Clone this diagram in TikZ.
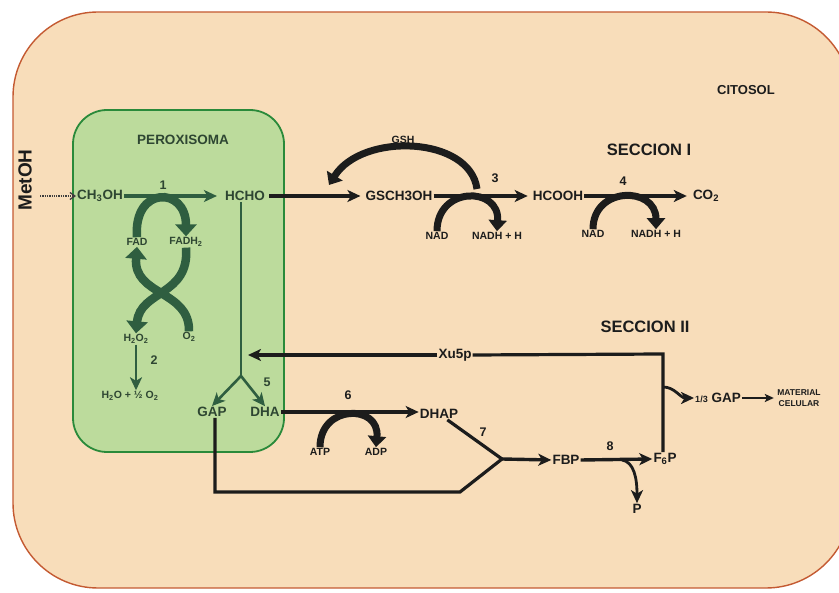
\documentclass[tikz,border=0pt]{standalone}
\usepackage{fontspec}
\setmainfont{Liberation Sans}
\usetikzlibrary{arrows.meta}

\definecolor{cytofill}{HTML}{F8DDBA}
\definecolor{cytoedge}{HTML}{C45A32}
\definecolor{perofill}{HTML}{BCDB9C}
\definecolor{peroedge}{HTML}{2A8A3A}
\definecolor{perotext}{HTML}{2E4632}
\definecolor{cyclegreen}{HTML}{2F5E40}
\definecolor{ink}{HTML}{1C1C1C}

\tikzset{
  sp/.style={font=\fontsize{13.5}{13.5}\selectfont\bfseries, text=ink, inner sep=1pt},
  spin/.style={sp, text=perotext},
  cof/.style={font=\fontsize{10.5}{10.5}\selectfont\bfseries, text=ink, inner sep=1pt},
  cofin/.style={cof, text=perotext},
  num/.style={font=\fontsize{12.5}{12.5}\selectfont\bfseries, text=ink, inner sep=0pt},
  numin/.style={num, text=perotext},
  sectitle/.style={font=\fontsize{16.5}{16.5}\selectfont\bfseries, text=ink},
  rxn/.style={line width=3.4pt, draw=ink, -{Stealth[length=13pt,width=12pt,inset=3.5pt]}},
  rxnin/.style={rxn, draw=cyclegreen},
  band/.style={line width=7pt, draw=ink, -{Triangle[length=11pt,width=18pt]}},
  bandin/.style={line width=8.5pt, draw=cyclegreen, -{Triangle[length=12pt,width=21pt]}},
  link/.style={line width=3.2pt, draw=ink},
}

\begin{document}
\begin{tikzpicture}[x=1pt,y=-1pt]
\useasboundingbox (0,0) rectangle (839,593);
\fill[white] (0,0) rectangle (839,593);

% cytosol and peroxisome compartments
\draw[cytoedge, fill=cytofill, line width=1.4pt, rounded corners=85pt] (13,12) rectangle (851,588);
\draw[peroedge, fill=perofill, line width=1.8pt, rounded corners=34pt] (73,110) rectangle (284,452);

% compartment and section titles
\node[font=\fontsize{19}{19}\selectfont\bfseries, text=ink, rotate=90] (metoh) at (25,180) {MetOH};
\node[font=\fontsize{13.5}{13.5}\selectfont\bfseries, text=perotext] (perox) at (183,140) {PEROXISOMA};
\node[font=\fontsize{13}{13}\selectfont\bfseries, text=ink] (citosol) at (746,90) {CITOSOL};
\node[sectitle] (sec1) at (649,150) {SECCION I};
\node[sectitle] (sec2) at (645,327) {SECCION II};

% metabolites
\node[spin] (ch3oh) at (100,196) {CH\textsubscript{3}OH};
\node[spin] (hcho) at (245,196) {HCHO};
\node[sp] (gsch) at (399,196) {GSCH3OH};
\node[sp] (hcooh) at (558,196) {HCOOH};
\node[sp] (co2) at (706,196) {CO\textsubscript{2}};
\node[spin] (gap) at (212,412) {GAP};
\node[spin] (dha) at (265,412) {DHA};
\node[sp] (dhap) at (439,414) {DHAP};
\node[sp] (fbp) at (566,460) {FBP};
\node[sp] (f6p) at (665,459) {F\textsubscript{6}P};
\node[sp] (xu5p) at (455,355) {Xu5p};
\node[sp] (gapout) at (718,398) {{\fontsize{9}{9}\selectfont 1/3} GAP};
\node[font=\fontsize{8.5}{10.5}\selectfont\bfseries, text=ink, align=center] (matcel) at (799,398) {MATERIAL\\CELULAR};
\node[sp] (pout) at (637,509) {P};

% cofactors
\node[cofin] (fad) at (137,242) {FAD};
\node[cofin] (fadh) at (186,242) {FADH\textsubscript{2}};
\node[cofin] (h2o2) at (136,339) {H\textsubscript{2}O\textsubscript{2}};
\node[cofin] (o2) at (189,337) {O\textsubscript{2}};
\node[cofin] (h2o) at (130,396) {H\textsubscript{2}O + ½ O\textsubscript{2}};
\node[cof] (nad3) at (437,236) {NAD};
\node[cof] (nadh3) at (497,236) {NADH + H};
\node[cof] (nad4) at (593,234) {NAD};
\node[cof] (nadh4) at (656,234) {NADH + H};
\node[cof] (atp) at (320,452) {ATP};
\node[cof] (adp) at (376,452) {ADP};

% enzyme step numbers
\node[numin] (n1) at (163,185) {1};
\node[numin] (n2) at (154,360) {2};
\node[num] (n3) at (495,178) {3};
\node[num] (n4) at (623,181) {4};
\node[numin] (n5) at (267,382) {5};
\node[num] (n6) at (348,395) {6};
\node[num] (n7) at (483,432) {7};
\node[num] (n8) at (610,446) {8};

% branch points
\coordinate (metin) at (40,196);
\coordinate (split) at (241,376);
\coordinate (xutip) at (248,355);
\coordinate (corner) at (663,354);
\coordinate (branch) at (663,387);
\coordinate (j7) at (502,459);
\coordinate (gb1) at (215,492);
\coordinate (gb2) at (460,492);
\coordinate (pbr) at (622,460);
\coordinate (gshstart) at (477,189);
\coordinate (gshend) at (329,185);

% methanol uptake
\draw[densely dotted, line width=1.3pt, draw=ink!85, -{Straight Barb[length=5pt,width=7pt]}] (metin) -- (ch3oh.west);

% peroxisomal reactions
\draw[rxnin] (ch3oh.east) -- ([xshift=-7pt]hcho.west);
\draw[bandin] (fad.north) .. controls (133,186) and (186,186) .. (fadh.north);
\draw[bandin] (fadh.south) .. controls (190,296) and (140,290) .. (h2o2.north);
\draw[bandin] (o2.north) .. controls (190,290) and (133,296) .. (fad.south);
\draw[rxnin, line width=2.6pt] (h2o2.south) -- (h2o2.south |- h2o.north);
\draw[line width=2pt, draw=cyclegreen] (split |- hcho.south) -- (split);
\draw[rxnin, line width=2.6pt] (split) -- (gap.north);
\draw[rxnin, line width=2.6pt] (split) -- (dha.north);

% section I: oxidation to CO2
\draw[rxn] ([xshift=3pt]hcho.east) -- ([xshift=-4pt]gsch.west);
\draw[rxn] (gsch.east) -- ([xshift=-4pt]hcooh.west);
\draw[rxn] (hcooh.east) -- ([xshift=-5pt]co2.west);
\draw[band] (gshstart) .. controls (470,136) and (362,132) .. (gshend);
\node[cof] (gsh) at (403,140) {GSH};
\draw[band] (nad3.north) .. controls (437,186) and (500,186) .. (nadh3.north);
\draw[band] (nad4.north) .. controls (593,186) and (656,186) .. (nadh4.north);

% section II: assimilation
\draw[rxn] (dha.east) -- (dhap.west |- dha.east);
\draw[band] (atp.north) .. controls (320,404) and (380,404) .. (adp.north);
\draw[link] (dhap.-35) -- (j7);
\draw[link] (gb1 |- gap.south) -- (gb1) -- (gb2) -- (j7);
\draw[rxn] (j7) -- (fbp.west);
\draw[rxn] (fbp.east) -- (f6p.west);
\draw[rxn, line width=2.8pt] (pbr) .. controls (634,462) and (637,478) .. (pout.north);
\draw[link] (corner |- f6p.north) -- (corner) -- (xu5p.east);
\draw[rxn] (xu5p.west) -- (xutip);
\draw[rxn, line width=2.8pt] (branch) .. controls (675,387) and (680,398) .. (gapout.west);
\draw[rxn, line width=1.8pt, -{Stealth[length=9pt,width=8pt,inset=2pt]}] (gapout.east) -- (matcel.west);
\end{tikzpicture}
\end{document}
